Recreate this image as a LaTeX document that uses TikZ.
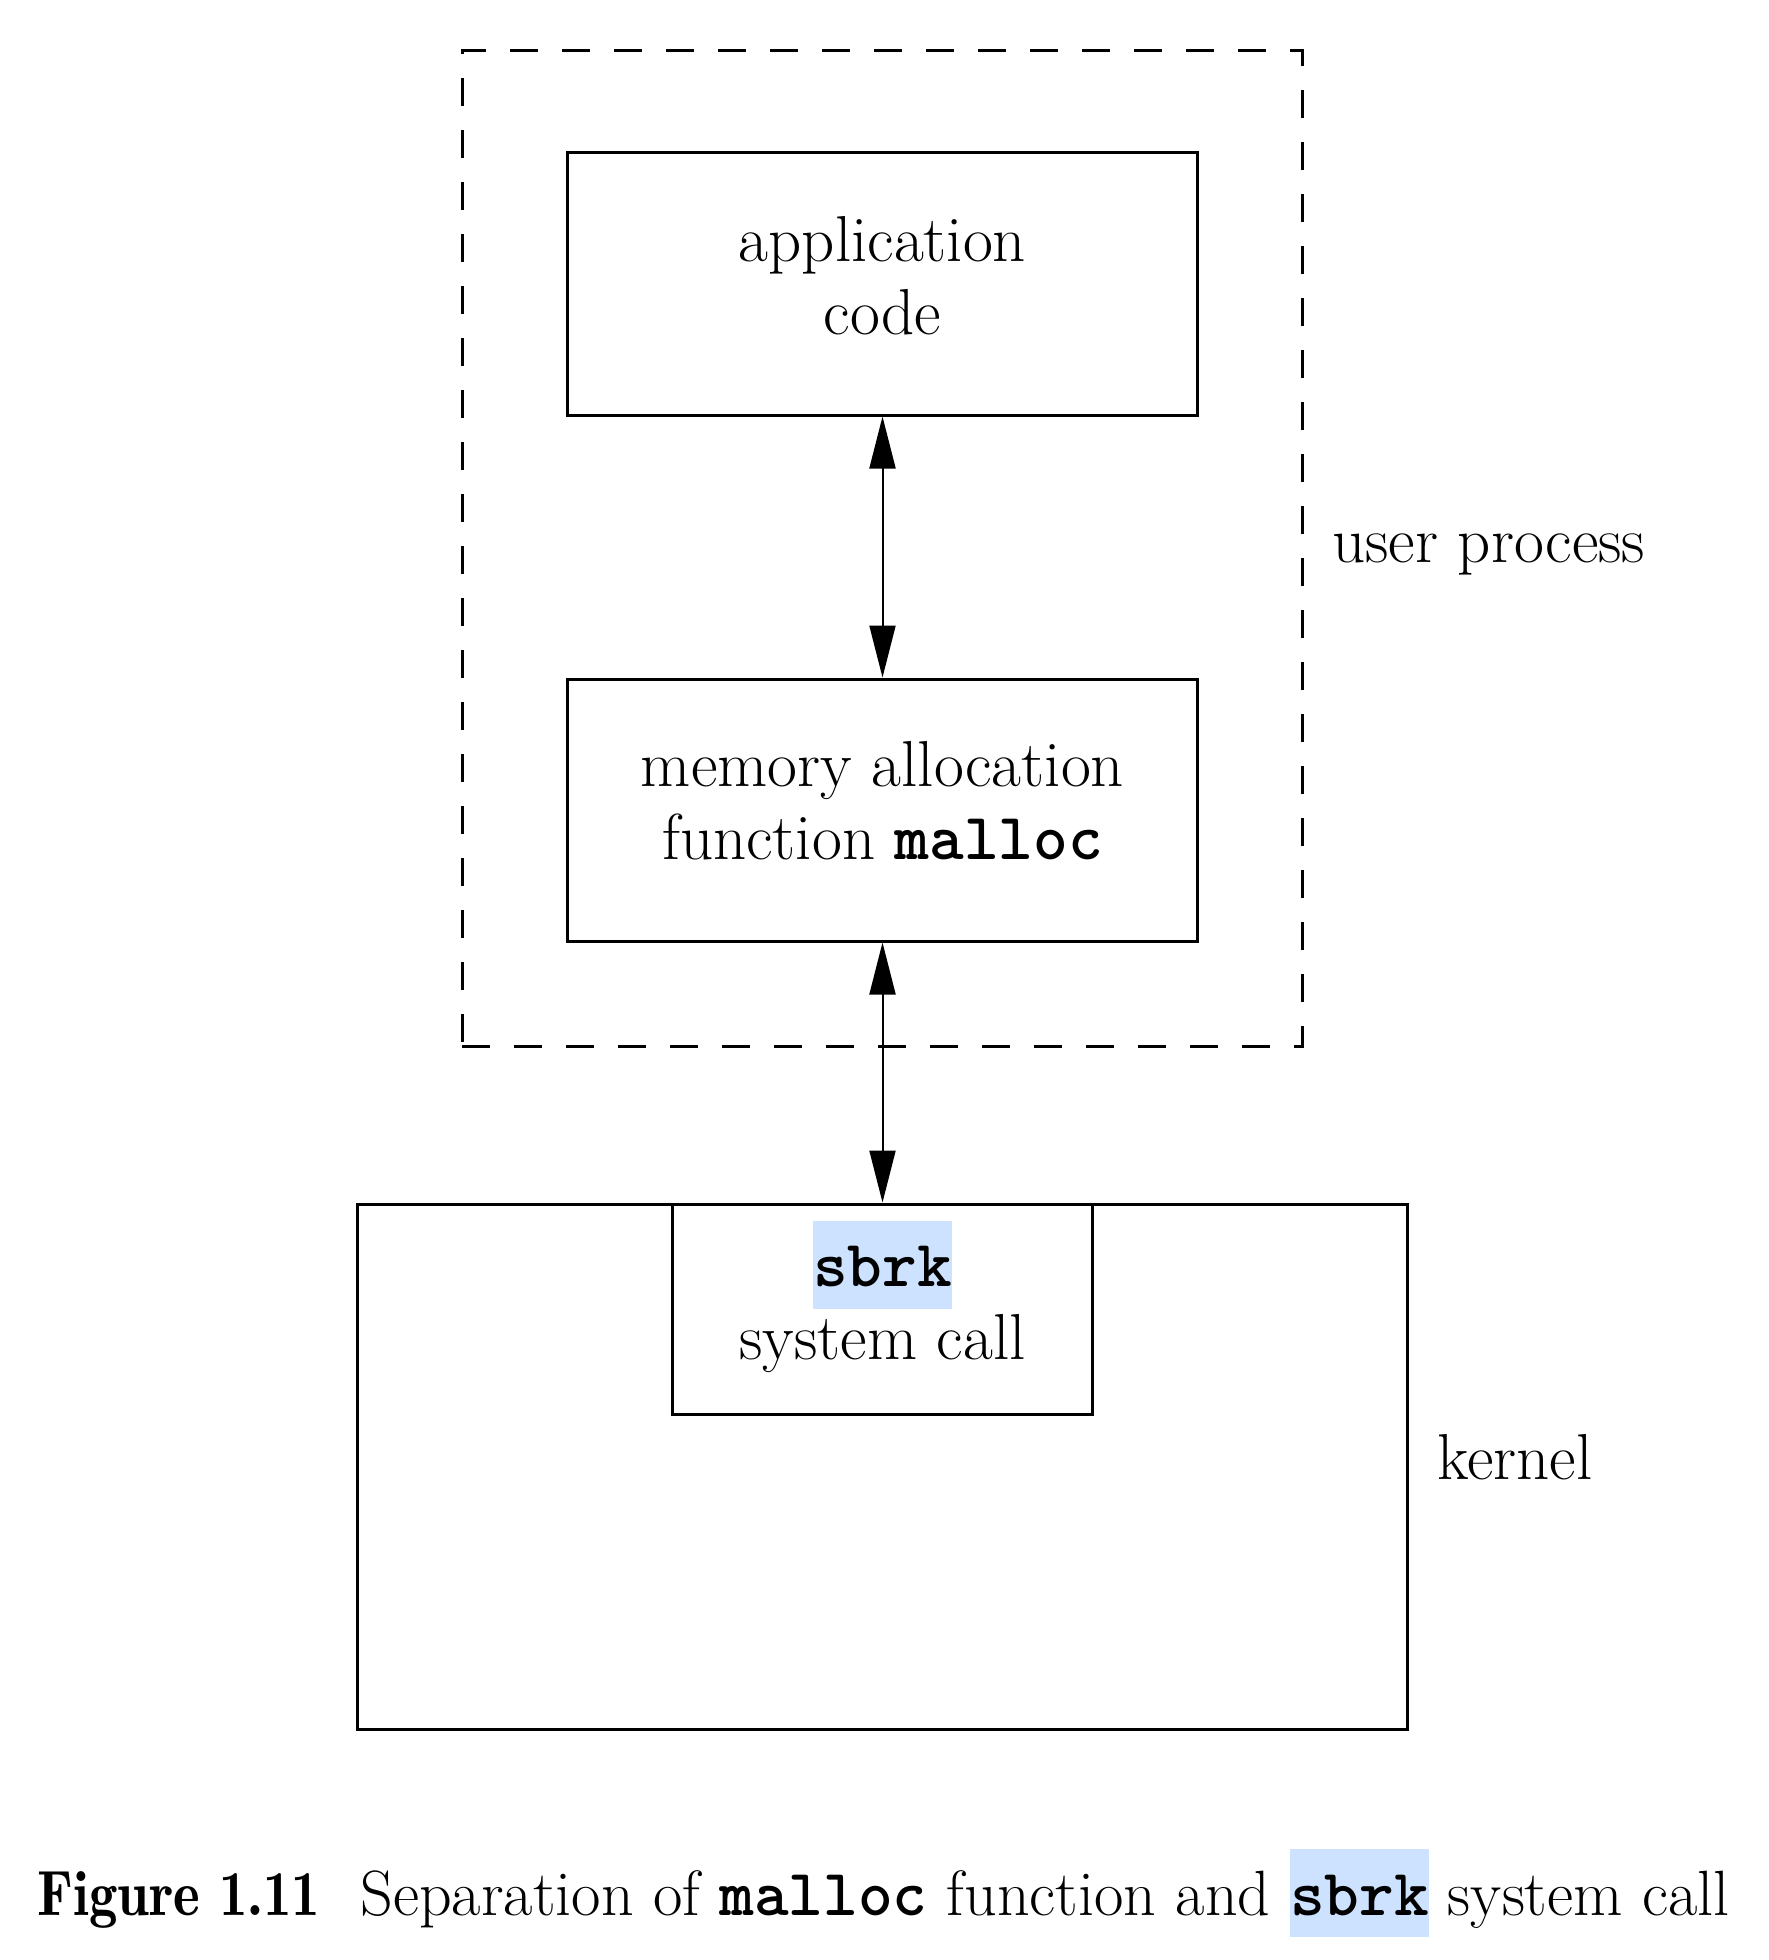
\documentclass[tikz,border=0pt]{standalone}
\usepackage{fontspec}
\usepackage{graphicx}
\setmonofont{lmmonolt10-bold.otf}
\newfontfamily\demifont{lmromandemi10-regular.otf}
\usetikzlibrary{arrows.meta}
\definecolor{hlblue}{RGB}{204,226,255}
\newcommand{\mono}[1]{{\fontsize{33}{36}\selectfont\ttfamily #1}}
\newcommand{\hlmono}[1]{{\setlength{\fboxsep}{0pt}\colorbox{hlblue}{\rule[-11pt]{0pt}{44pt}\mono{#1}}}}
\tikzset{
  x=0.5pt, y=-0.5pt,
  boxshape/.style={draw, line width=1.5pt, rectangle, inner sep=0pt},
  txt/.style={inner sep=0pt, align=center, font=\fontsize{32.5}{36.5}\selectfont},
  lbl/.style={inner sep=0pt, anchor=base west, font=\fontsize{32.5}{36.5}\selectfont},
  caplbl/.style={inner sep=0pt, anchor=base west, font=\fontsize{32}{36}\selectfont},
  biarrow/.style={line width=1pt, {Triangle[length=26pt,width=13pt]}-{Triangle[length=26pt,width=13pt]}},
  userbox/.style={draw, line width=1.5pt, dash pattern=on 14pt off 12pt, rectangle, inner sep=0pt}
}
\begin{document}
\begin{tikzpicture}
\useasboundingbox (0,0) rectangle (1768,1960);
% user process region
\node[userbox, minimum width=420pt, minimum height=498pt] (user) at (882,548) {};
% boxes
\node[boxshape, minimum width=315pt, minimum height=131.25pt] (app) at (882.5,283.75) {};
\node[boxshape, minimum width=315pt, minimum height=131pt] (mem) at (882.5,810) {};
\node[boxshape, minimum width=525pt, minimum height=262.5pt] (kernel) at (882.5,1466.5) {};
\node[boxshape, fill=white, minimum width=210pt, minimum height=105pt] (sbrk) at (882.5,1309) {};
% texts
\node[txt] (apptext) at (882.5,276) {application\\code};
\node[txt] (memtext) at (882.5,801) {memory allocation\\function \mono{malloc}};
\node[txt] (sbrktext) at (882.5,1297) {\hlmono{sbrk}\\system call};
\node[lbl] (userlbl) at (1332,562) {user process};
\node[lbl] (kernlbl) at (1437,1479) {kernel};
% connectors
\draw[biarrow] (app.south) -- (mem.north);
\draw[biarrow] (mem.south) -- (sbrk.north);
% caption
\node[caplbl] (caption) at (37,1915) {\scalebox{0.89}[1]{\demifont Figure 1.11}\hspace{20pt}Separation of \mono{malloc} function and \hlmono{sbrk} system call};
\end{tikzpicture}
\end{document}
